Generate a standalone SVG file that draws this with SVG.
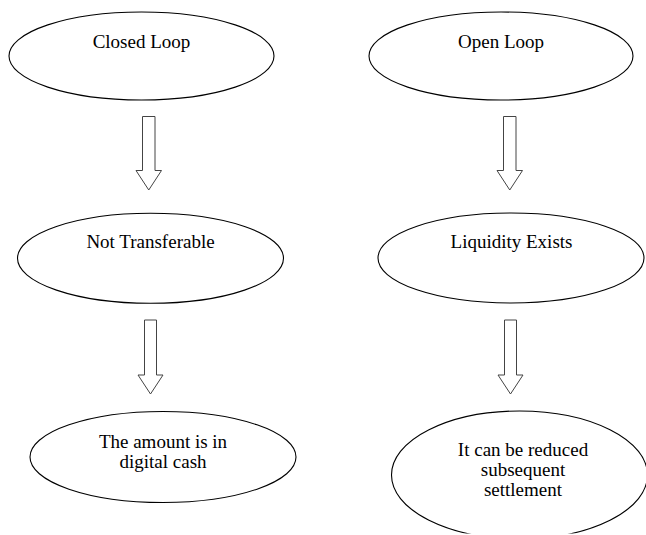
<svg xmlns="http://www.w3.org/2000/svg" width="646" height="535" viewBox="0 0 646 535">
<style>
.node ellipse{fill:#fff;stroke:#000;stroke-width:1.1}
.node text{font-family:"Liberation Serif","Times New Roman",serif;font-size:19px;fill:#000;text-anchor:middle}
.conn polygon{fill:#fff;stroke:#444;stroke-width:1}
</style>
<defs>
<clipPath id="page"><rect x="0" y="0" width="646" height="533.5"/></clipPath>
</defs>
<rect width="646" height="535" fill="#fff"/>
<g id="closed-loop" class="node">
<ellipse cx="141.5" cy="56" rx="132.5" ry="44"/>
<text x="141.5" y="48">Closed Loop</text>
</g>
<g id="open-loop" class="node">
<ellipse cx="501" cy="56" rx="132" ry="44"/>
<text x="501" y="48">Open Loop</text>
</g>
<g id="not-transferable" class="node">
<ellipse cx="150.5" cy="258.3" rx="133" ry="45"/>
<text x="150.5" y="248">Not Transferable</text>
</g>
<g id="liquidity-exists" class="node">
<ellipse cx="511" cy="258" rx="133" ry="45"/>
<text x="511.5" y="248">Liquidity Exists</text>
</g>
<g id="digital-cash" class="node">
<ellipse cx="163" cy="457" rx="133" ry="45.5"/>
<text x="163" y="448">The amount is in</text>
<text x="163" y="468">digital cash</text>
</g>
<g id="reduced-settlement" class="node">
<ellipse cx="519.5" cy="475" rx="128" ry="64" clip-path="url(#page)"/>
<text x="523" y="456">It can be reduced</text>
<text x="523" y="476">subsequent</text>
<text x="523" y="496">settlement</text>
</g>
<g id="connectors" class="conn">
<polygon points="142.5,116.5 155,116.5 155,170.5 161.5,170.5 148.75,190 136,170.5 142.5,170.5"/>
<polygon points="503.5,116.5 516,116.5 516,170.5 522.5,170.5 509.75,190 497,170.5 503.5,170.5"/>
<polygon points="144.5,320 156.5,320 156.5,375 163,375 150.5,394 138,375 144.5,375"/>
<polygon points="504.5,320 516.5,320 516.5,375 523,375 510.5,394 498,375 504.5,375"/>
</g>
</svg>
